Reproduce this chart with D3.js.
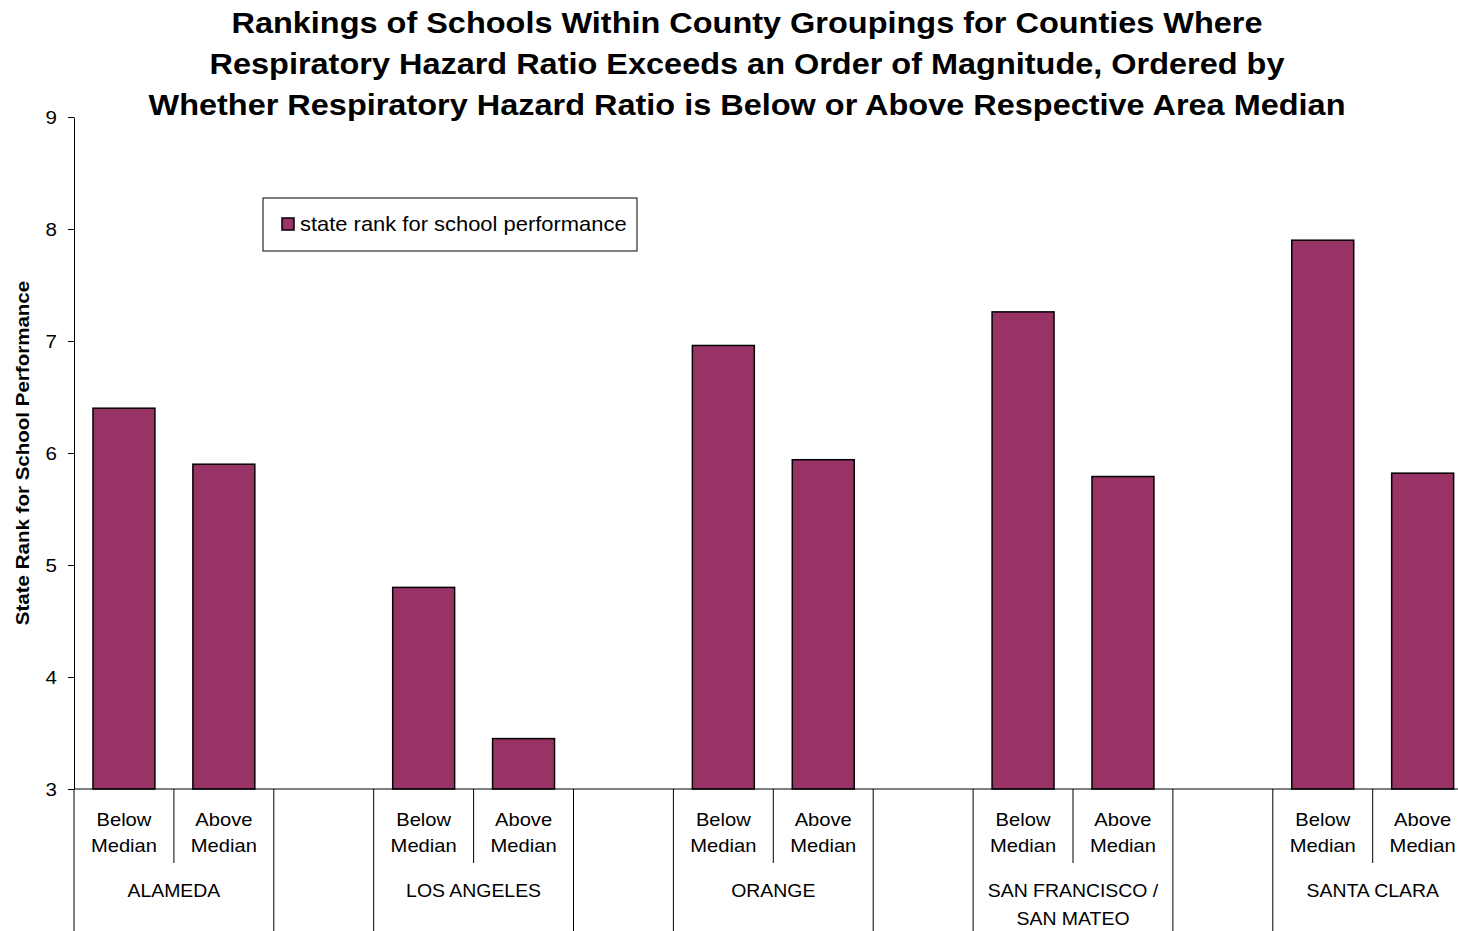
<!DOCTYPE html>
<html>
<head>
<meta charset="utf-8">
<script src="https://cdn.jsdelivr.net/npm/d3@7"></script>
<style>
  body { margin: 0; background: #fff; }
  svg { display: block; font-family: 'Liberation Sans', Arial, sans-serif; }
</style>
</head>
<body>
<div id="viz"></div>
<script>
const counties = ['ALAMEDA', 'LOS ANGELES', 'ORANGE', 'SAN FRANCISCO / SAN MATEO', 'SANTA CLARA']
const positions = ['Below Median', 'Above Median']
const belowMedian = [6.40, 4.80, 6.96, 7.26, 7.90]
const aboveMedian = [5.90, 3.45, 5.94, 5.79, 5.82]
const yTicks = [3, 4, 5, 6, 7, 8, 9]
const seriesName = 'state rank for school performance'
const yAxisLabel = 'State Rank for School Performance'
const titleLines = [
    'Rankings of Schools Within County Groupings for Counties Where',
    'Respiratory Hazard Ratio Exceeds an Order of Magnitude, Ordered by',
    'Whether Respiratory Hazard Ratio is Below or Above Respective Area Median'
]

// slots: each county gets Below / Above, then an empty slot
const slots = []
const data = []
counties.forEach((c, i) => {
    positions.forEach((p, j) => {
        const key = c + '|' + p
        slots.push(key)
        data.push({ county: c, pos: p, key: key, value: j === 0 ? belowMedian[i] : aboveMedian[i] })
    })
    slots.push('gap' + i)
})

const w = 1458, h = 931
const margin = { top: 117, left: 74, bottom: 789 }
const slotW = 99.9
const color = '#993366'

const svg = d3.select('#viz')
    .append('svg')
    .attr('width', w)
    .attr('height', h)

// the reference text is a bit wider than Liberation Sans, so stretch it
const label = (parent, x, y, lines, opts) => {
    const g = parent.append('g')
        .attr('transform', `translate(${x},${y}) rotate(${opts.rotate || 0}) scale(${opts.sx},1)`)
    g.append('text')
        .attr('text-anchor', opts.anchor || 'middle')
        .attr('font-size', opts.size)
        .attr('font-weight', opts.bold ? 'bold' : 'normal')
        .selectAll('tspan')
        .data(lines)
        .join('tspan')
        .attr('x', 0)
        .attr('dy', (d, i) => i === 0 ? 0 : opts.lh)
        .text(d => d)
    return g
}

const x = d3.scaleBand()
    .domain(slots)
    .range([margin.left, margin.left + slots.length * slotW])

const y = d3.scaleLinear()
    .domain([3, 9])
    .range([margin.bottom, margin.top])

// title
label(svg, 747, 33, titleLines, { size: 29, bold: true, sx: 1.12, lh: 41 })

// bars
const barPad = 0.19
svg.append('g')
    .selectAll('rect')
    .data(data)
    .join('rect')
    .attr('x', d => x(d.key) + x.bandwidth() * barPad)
    .attr('y', d => y(d.value))
    .attr('width', x.bandwidth() * (1 - 2 * barPad))
    .attr('height', d => y(3) - y(d.value))
    .attr('fill', color)
    .attr('stroke', '#000')
    .attr('stroke-width', 1.5)

// y axis
const yAxisG = svg.append('g')
    .attr('transform', `translate(${margin.left},0)`)
    .call(d3.axisLeft(y).tickValues(yTicks).tickSize(6).tickSizeOuter(0).tickFormat(''))
yAxisG.selectAll('line, path').attr('stroke', '#000')
yTicks.forEach(t => {
    label(svg, margin.left - 17, y(t) + 7, [d3.format('d')(t)], { size: 19, sx: 1.08, anchor: 'end' })
})

label(svg, 29, (margin.top + margin.bottom) / 2, [yAxisLabel], { size: 18, bold: true, sx: 1.14, rotate: -90 })

// x axis (multi-level)
const xg = svg.append('g')
xg.append('line')
    .attr('x1', margin.left).attr('x2', w)
    .attr('y1', margin.bottom).attr('y2', margin.bottom)
    .attr('stroke', '#000')

// group boundaries (full height)
const bounds = [margin.left]
counties.forEach((c, i) => {
    const k = 'gap' + i
    bounds.push(x(k), x(k) + x.bandwidth())
})
xg.selectAll('.gb')
    .data(bounds)
    .join('line')
    .attr('x1', d => d).attr('x2', d => d)
    .attr('y1', margin.bottom).attr('y2', h)
    .attr('stroke', '#000')

// inner tick between Below and Above
xg.selectAll('.ib')
    .data(counties)
    .join('line')
    .attr('x1', c => x(c + '|' + positions[1]))
    .attr('x2', c => x(c + '|' + positions[1]))
    .attr('y1', margin.bottom).attr('y2', 863)
    .attr('stroke', '#000')

// category labels
data.forEach(d => {
    label(xg, x(d.key) + x.bandwidth() / 2, 826, d.pos.split(' '), { size: 18, sx: 1.12, lh: 26 })
})

// county labels
counties.forEach(c => {
    const lines = c.includes('/ ') ? [c.split('/ ')[0] + '/', c.split('/ ')[1]] : [c]
    label(xg, x(c + '|' + positions[1]), 897, lines, { size: 18, sx: 1.08, lh: 28 })
})

// legend
const lg = svg.append('g').attr('transform', 'translate(263,198)')
lg.append('rect')
    .attr('width', 374).attr('height', 53)
    .attr('fill', '#fff').attr('stroke', '#000')
lg.append('rect')
    .attr('x', 19).attr('y', 20).attr('width', 12).attr('height', 12)
    .attr('fill', color).attr('stroke', '#000').attr('stroke-width', 1.5)
label(lg, 37, 33, [seriesName], { size: 20.5, sx: 1.07, anchor: 'start' })
</script>
</body>
</html>
